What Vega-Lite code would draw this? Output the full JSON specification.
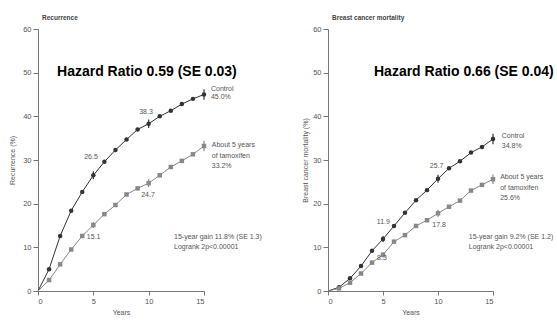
{
  "$schema": "https://vega.github.io/schema/vega-lite/v6.json",
  "padding": {"left": 8, "top": 14, "right": 0, "bottom": 0},
  "background": "white",
  "spacing": 124,
  "bounds": "flush",
  "config": {
    "font": "Liberation Sans",
    "view": {"stroke": null},
    "axis": {"domainColor": "#777", "tickColor": "#777", "labelColor": "#555", "titleColor": "#555", "labelFontSize": 7.5, "titleFontSize": 7, "titleFontWeight": "normal", "grid": false, "labelFont": "Liberation Sans", "titleFont": "Liberation Sans"},
    "title": {"anchor": "start", "frame": "group", "fontSize": 6.5, "fontWeight": "bold", "color": "#444", "offset": 4, "dx": 4, "font": "Liberation Sans"}
  },
  "datasets": {
    "curves": [
      {"panel": "Recurrence", "arm": "Control", "year": 0, "value": 0},
      {"panel": "Recurrence", "arm": "Control", "year": 1, "value": 5.0},
      {"panel": "Recurrence", "arm": "Control", "year": 2, "value": 12.6},
      {"panel": "Recurrence", "arm": "Control", "year": 3, "value": 18.4},
      {"panel": "Recurrence", "arm": "Control", "year": 4, "value": 22.7},
      {"panel": "Recurrence", "arm": "Control", "year": 5, "value": 26.5, "lo": 25.6, "hi": 27.4},
      {"panel": "Recurrence", "arm": "Control", "year": 6, "value": 29.6},
      {"panel": "Recurrence", "arm": "Control", "year": 7, "value": 32.3},
      {"panel": "Recurrence", "arm": "Control", "year": 8, "value": 34.7},
      {"panel": "Recurrence", "arm": "Control", "year": 9, "value": 37.0},
      {"panel": "Recurrence", "arm": "Control", "year": 10, "value": 38.3, "lo": 37.3, "hi": 39.3},
      {"panel": "Recurrence", "arm": "Control", "year": 11, "value": 40.0},
      {"panel": "Recurrence", "arm": "Control", "year": 12, "value": 41.3},
      {"panel": "Recurrence", "arm": "Control", "year": 13, "value": 42.8},
      {"panel": "Recurrence", "arm": "Control", "year": 14, "value": 44.0},
      {"panel": "Recurrence", "arm": "Control", "year": 15, "value": 45.0, "lo": 43.8, "hi": 46.2},
      {"panel": "Recurrence", "arm": "Tamoxifen", "year": 0, "value": 0},
      {"panel": "Recurrence", "arm": "Tamoxifen", "year": 1, "value": 2.5},
      {"panel": "Recurrence", "arm": "Tamoxifen", "year": 2, "value": 6.1},
      {"panel": "Recurrence", "arm": "Tamoxifen", "year": 3, "value": 9.5},
      {"panel": "Recurrence", "arm": "Tamoxifen", "year": 4, "value": 12.6},
      {"panel": "Recurrence", "arm": "Tamoxifen", "year": 5, "value": 15.1, "lo": 14.4, "hi": 15.8},
      {"panel": "Recurrence", "arm": "Tamoxifen", "year": 6, "value": 17.6},
      {"panel": "Recurrence", "arm": "Tamoxifen", "year": 7, "value": 19.7},
      {"panel": "Recurrence", "arm": "Tamoxifen", "year": 8, "value": 22.1},
      {"panel": "Recurrence", "arm": "Tamoxifen", "year": 9, "value": 23.5},
      {"panel": "Recurrence", "arm": "Tamoxifen", "year": 10, "value": 24.7, "lo": 23.8, "hi": 25.6},
      {"panel": "Recurrence", "arm": "Tamoxifen", "year": 11, "value": 26.5},
      {"panel": "Recurrence", "arm": "Tamoxifen", "year": 12, "value": 28.4},
      {"panel": "Recurrence", "arm": "Tamoxifen", "year": 13, "value": 29.8},
      {"panel": "Recurrence", "arm": "Tamoxifen", "year": 14, "value": 31.3},
      {"panel": "Recurrence", "arm": "Tamoxifen", "year": 15, "value": 33.2, "lo": 32.0, "hi": 34.4},
      {"panel": "Mortality", "arm": "Control", "year": 0, "value": 0},
      {"panel": "Mortality", "arm": "Control", "year": 1, "value": 0.85},
      {"panel": "Mortality", "arm": "Control", "year": 2, "value": 2.9},
      {"panel": "Mortality", "arm": "Control", "year": 3, "value": 5.7},
      {"panel": "Mortality", "arm": "Control", "year": 4, "value": 9.2},
      {"panel": "Mortality", "arm": "Control", "year": 5, "value": 11.9, "lo": 11.2, "hi": 12.6},
      {"panel": "Mortality", "arm": "Control", "year": 6, "value": 14.9},
      {"panel": "Mortality", "arm": "Control", "year": 7, "value": 17.9},
      {"panel": "Mortality", "arm": "Control", "year": 8, "value": 20.8},
      {"panel": "Mortality", "arm": "Control", "year": 9, "value": 23.1},
      {"panel": "Mortality", "arm": "Control", "year": 10, "value": 25.7, "lo": 24.8, "hi": 26.6},
      {"panel": "Mortality", "arm": "Control", "year": 11, "value": 28.1},
      {"panel": "Mortality", "arm": "Control", "year": 12, "value": 29.7},
      {"panel": "Mortality", "arm": "Control", "year": 13, "value": 31.7},
      {"panel": "Mortality", "arm": "Control", "year": 14, "value": 33.0},
      {"panel": "Mortality", "arm": "Control", "year": 15, "value": 34.8, "lo": 33.6, "hi": 36.0},
      {"panel": "Mortality", "arm": "Tamoxifen", "year": 0, "value": 0},
      {"panel": "Mortality", "arm": "Tamoxifen", "year": 1, "value": 0.6},
      {"panel": "Mortality", "arm": "Tamoxifen", "year": 2, "value": 1.9},
      {"panel": "Mortality", "arm": "Tamoxifen", "year": 3, "value": 4.0},
      {"panel": "Mortality", "arm": "Tamoxifen", "year": 4, "value": 6.5},
      {"panel": "Mortality", "arm": "Tamoxifen", "year": 5, "value": 8.3, "lo": 7.7, "hi": 8.9},
      {"panel": "Mortality", "arm": "Tamoxifen", "year": 6, "value": 11.3},
      {"panel": "Mortality", "arm": "Tamoxifen", "year": 7, "value": 12.8},
      {"panel": "Mortality", "arm": "Tamoxifen", "year": 8, "value": 14.9},
      {"panel": "Mortality", "arm": "Tamoxifen", "year": 9, "value": 16.2},
      {"panel": "Mortality", "arm": "Tamoxifen", "year": 10, "value": 17.8, "lo": 17.0, "hi": 18.6},
      {"panel": "Mortality", "arm": "Tamoxifen", "year": 11, "value": 19.3},
      {"panel": "Mortality", "arm": "Tamoxifen", "year": 12, "value": 20.7},
      {"panel": "Mortality", "arm": "Tamoxifen", "year": 13, "value": 23.0},
      {"panel": "Mortality", "arm": "Tamoxifen", "year": 14, "value": 24.3},
      {"panel": "Mortality", "arm": "Tamoxifen", "year": 15, "value": 25.6, "lo": 24.5, "hi": 26.7}
    ],
    "labels": [
      {"panel": "Recurrence", "kind": "hazard", "x": 1.72, "y": 49.2, "text": "Hazard Ratio 0.59 (SE 0.03)"},
      {"panel": "Recurrence", "kind": "note", "x": 15.63, "y": 46.2, "text": "Control"},
      {"panel": "Recurrence", "kind": "note", "x": 15.63, "y": 44.4, "text": "45.0%"},
      {"panel": "Recurrence", "kind": "note", "x": 15.7, "y": 33.4, "text": "About 5 years"},
      {"panel": "Recurrence", "kind": "note", "x": 15.7, "y": 30.9, "text": "of tamoxifen"},
      {"panel": "Recurrence", "kind": "note", "x": 15.7, "y": 28.6, "text": "33.2%"},
      {"panel": "Recurrence", "kind": "note", "x": 12.29, "y": 12.3, "text": "15-year gain 11.8% (SE 1.3)"},
      {"panel": "Recurrence", "kind": "note", "x": 12.29, "y": 10.0, "text": "Logrank 2p<0.00001"},
      {"panel": "Recurrence", "kind": "num", "x": 9.76, "y": 41.0, "text": "38.3"},
      {"panel": "Recurrence", "kind": "num", "x": 4.79, "y": 30.7, "text": "26.5"},
      {"panel": "Recurrence", "kind": "num", "x": 9.94, "y": 22.0, "text": "24.7"},
      {"panel": "Recurrence", "kind": "num", "x": 5.03, "y": 12.3, "text": "15.1"},
      {"panel": "Mortality", "kind": "hazard", "x": 4.18, "y": 49.2, "text": "Hazard Ratio 0.66 (SE 0.04)"},
      {"panel": "Mortality", "kind": "note", "x": 15.8, "y": 35.5, "text": "Control"},
      {"panel": "Mortality", "kind": "note", "x": 15.8, "y": 33.2, "text": "34.8%"},
      {"panel": "Mortality", "kind": "note", "x": 15.65, "y": 26.0, "text": "About 5 years"},
      {"panel": "Mortality", "kind": "note", "x": 15.65, "y": 23.5, "text": "of tamoxifen"},
      {"panel": "Mortality", "kind": "note", "x": 15.65, "y": 21.2, "text": "25.6%"},
      {"panel": "Mortality", "kind": "note", "x": 12.8, "y": 12.3, "text": "15-year gain 9.2% (SE 1.2)"},
      {"panel": "Mortality", "kind": "note", "x": 12.8, "y": 10.0, "text": "Logrank 2p<0.00001"},
      {"panel": "Mortality", "kind": "num", "x": 9.88, "y": 28.6, "text": "25.7"},
      {"panel": "Mortality", "kind": "num", "x": 5.03, "y": 15.9, "text": "11.9"},
      {"panel": "Mortality", "kind": "num", "x": 10.1, "y": 15.1, "text": "17.8"},
      {"panel": "Mortality", "kind": "num", "x": 4.9, "y": 7.6, "text": "8.3"}
    ]
  },
  "hconcat": [
    {
      "width": 166,
      "height": 262,
      "title": {"text": "Recurrence"},
      "layer": [
        {
          "data": {"name": "curves"},
          "transform": [{"filter": "datum.panel == 'Recurrence'"}],
          "mark": {"type": "line", "strokeWidth": 1},
          "encoding": {
            "x": {"field": "year", "type": "quantitative", "scale": {"domain": [0, 15], "nice": false}, "axis": {"values": [0, 5, 10, 15], "title": "Years", "tickSize": 4, "labelPadding": 2, "titlePadding": 4}},
            "y": {"field": "value", "type": "quantitative", "scale": {"domain": [0, 60], "nice": false}, "axis": {"values": [0, 10, 20, 30, 40, 50, 60], "title": "Recurrence (%)", "tickSize": 5, "labelPadding": 2, "titlePadding": 7}},
            "color": {"field": "arm", "type": "nominal", "scale": {"domain": ["Control", "Tamoxifen"], "range": ["#333333", "#888888"]}, "legend": null}
          }
        },
        {
          "data": {"name": "curves"},
          "transform": [{"filter": "datum.panel == 'Recurrence' && datum.lo != null"}],
          "mark": {"type": "rule", "strokeWidth": 1.2},
          "encoding": {
            "x": {"field": "year", "type": "quantitative"},
            "y": {"field": "lo", "type": "quantitative"},
            "y2": {"field": "hi"},
            "color": {"field": "arm", "type": "nominal", "legend": null}
          }
        },
        {
          "data": {"name": "curves"},
          "transform": [{"filter": "datum.panel == 'Recurrence' && datum.year > 0"}],
          "mark": {"type": "point", "filled": true, "opacity": 1, "size": 20},
          "encoding": {
            "x": {"field": "year", "type": "quantitative"},
            "y": {"field": "value", "type": "quantitative"},
            "color": {"field": "arm", "type": "nominal", "legend": null},
            "shape": {"field": "arm", "type": "nominal", "scale": {"domain": ["Control", "Tamoxifen"], "range": ["circle", "square"]}, "legend": null}
          }
        },
        {
          "data": {"name": "labels"},
          "transform": [{"filter": "datum.panel == 'Recurrence' && datum.kind == 'hazard'"}],
          "mark": {"type": "text", "align": "left", "baseline": "alphabetic", "fontSize": 14, "fontWeight": "bold", "fill": "#000000", "font": "Liberation Sans"},
          "encoding": {"x": {"field": "x", "type": "quantitative"}, "y": {"field": "y", "type": "quantitative"}, "text": {"field": "text"}}
        },
        {
          "data": {"name": "labels"},
          "transform": [{"filter": "datum.panel == 'Recurrence' && datum.kind == 'note'"}],
          "mark": {"type": "text", "align": "left", "baseline": "middle", "fontSize": 7, "fill": "#555555"},
          "encoding": {"x": {"field": "x", "type": "quantitative"}, "y": {"field": "y", "type": "quantitative"}, "text": {"field": "text"}}
        },
        {
          "data": {"name": "labels"},
          "transform": [{"filter": "datum.panel == 'Recurrence' && datum.kind == 'num'"}],
          "mark": {"type": "text", "align": "center", "baseline": "middle", "fontSize": 7, "fill": "#555555"},
          "encoding": {"x": {"field": "x", "type": "quantitative"}, "y": {"field": "y", "type": "quantitative"}, "text": {"field": "text"}}
        }
      ]
    },
    {
      "width": 165,
      "height": 262,
      "title": {"text": "Breast cancer mortality"},
      "layer": [
        {
          "data": {"name": "curves"},
          "transform": [{"filter": "datum.panel == 'Mortality'"}],
          "mark": {"type": "line", "strokeWidth": 1},
          "encoding": {
            "x": {"field": "year", "type": "quantitative", "scale": {"domain": [0, 15], "nice": false}, "axis": {"values": [0, 5, 10, 15], "title": "Years", "tickSize": 4, "labelPadding": 2, "titlePadding": 4}},
            "y": {"field": "value", "type": "quantitative", "scale": {"domain": [0, 60], "nice": false}, "axis": {"values": [0, 10, 20, 30, 40, 50, 60], "title": "Breast cancer mortality (%)", "tickSize": 5, "labelPadding": 2, "titlePadding": 4}},
            "color": {"field": "arm", "type": "nominal", "scale": {"domain": ["Control", "Tamoxifen"], "range": ["#333333", "#888888"]}, "legend": null}
          }
        },
        {
          "data": {"name": "curves"},
          "transform": [{"filter": "datum.panel == 'Mortality' && datum.lo != null"}],
          "mark": {"type": "rule", "strokeWidth": 1.2},
          "encoding": {
            "x": {"field": "year", "type": "quantitative"},
            "y": {"field": "lo", "type": "quantitative"},
            "y2": {"field": "hi"},
            "color": {"field": "arm", "type": "nominal", "legend": null}
          }
        },
        {
          "data": {"name": "curves"},
          "transform": [{"filter": "datum.panel == 'Mortality' && datum.year > 0"}],
          "mark": {"type": "point", "filled": true, "opacity": 1, "size": 20},
          "encoding": {
            "x": {"field": "year", "type": "quantitative"},
            "y": {"field": "value", "type": "quantitative"},
            "color": {"field": "arm", "type": "nominal", "legend": null},
            "shape": {"field": "arm", "type": "nominal", "scale": {"domain": ["Control", "Tamoxifen"], "range": ["circle", "square"]}, "legend": null}
          }
        },
        {
          "data": {"name": "labels"},
          "transform": [{"filter": "datum.panel == 'Mortality' && datum.kind == 'hazard'"}],
          "mark": {"type": "text", "align": "left", "baseline": "alphabetic", "fontSize": 14, "fontWeight": "bold", "fill": "#000000", "font": "Liberation Sans"},
          "encoding": {"x": {"field": "x", "type": "quantitative"}, "y": {"field": "y", "type": "quantitative"}, "text": {"field": "text"}}
        },
        {
          "data": {"name": "labels"},
          "transform": [{"filter": "datum.panel == 'Mortality' && datum.kind == 'note'"}],
          "mark": {"type": "text", "align": "left", "baseline": "middle", "fontSize": 7, "fill": "#555555"},
          "encoding": {"x": {"field": "x", "type": "quantitative"}, "y": {"field": "y", "type": "quantitative"}, "text": {"field": "text"}}
        },
        {
          "data": {"name": "labels"},
          "transform": [{"filter": "datum.panel == 'Mortality' && datum.kind == 'num'"}],
          "mark": {"type": "text", "align": "center", "baseline": "middle", "fontSize": 7, "fill": "#555555"},
          "encoding": {"x": {"field": "x", "type": "quantitative"}, "y": {"field": "y", "type": "quantitative"}, "text": {"field": "text"}}
        }
      ]
    }
  ]
}
